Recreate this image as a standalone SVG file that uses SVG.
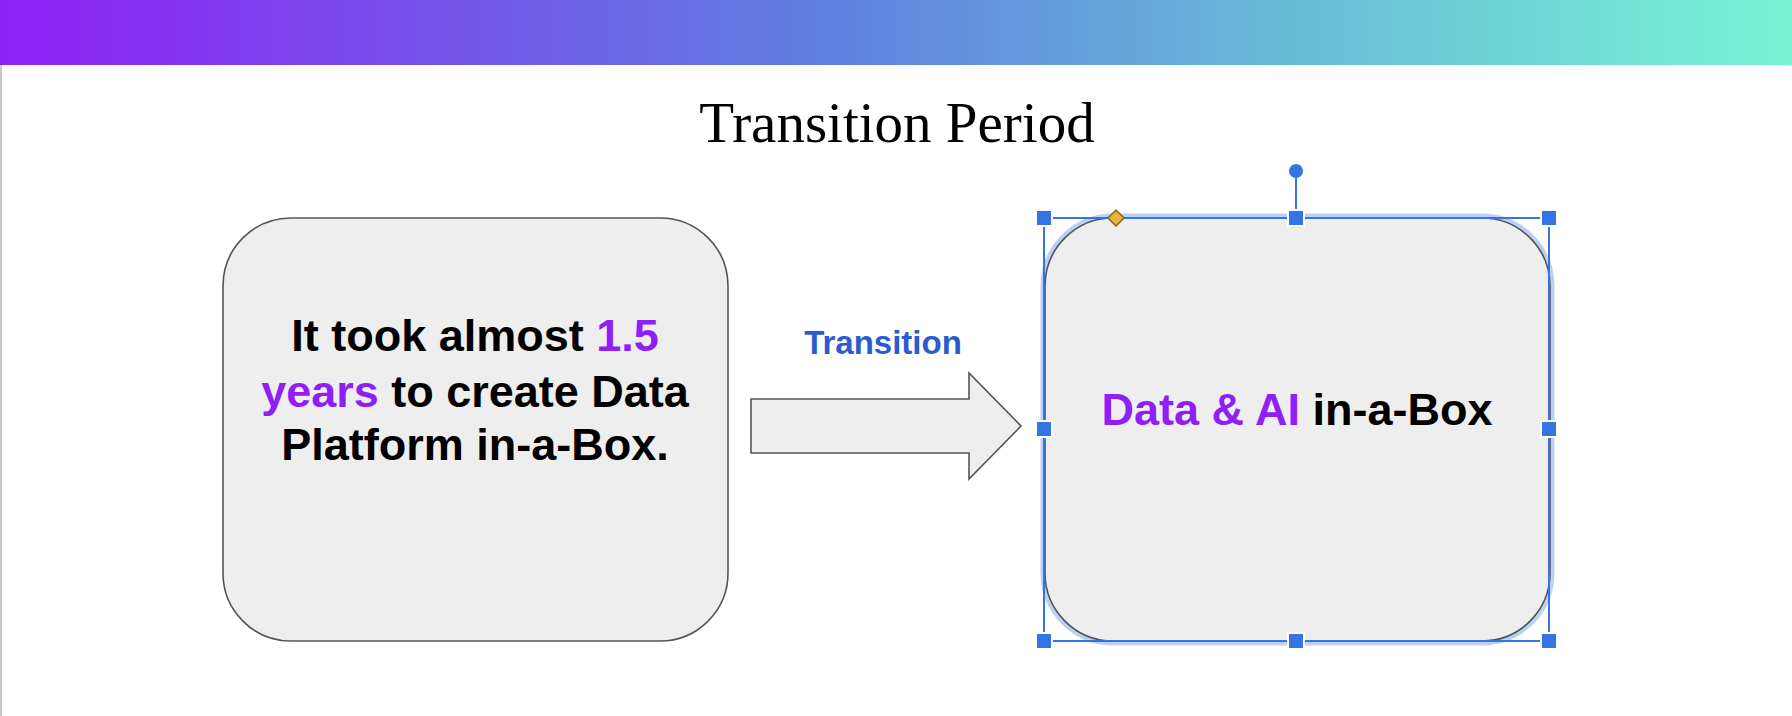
<svg xmlns="http://www.w3.org/2000/svg" width="1792" height="716" viewBox="0 0 1792 716">
<defs>
<linearGradient id="bar" x1="0" y1="0" x2="1" y2="0">
<stop offset="0" stop-color="#8f20f6"/>
<stop offset="0.45" stop-color="#607ee0"/>
<stop offset="0.7" stop-color="#68b6d8"/>
<stop offset="1" stop-color="#77f5d5"/>
</linearGradient>
<style>
.box{fill:#eeeeee;stroke:#555555;stroke-width:1.6}
.t{font-family:"Liberation Sans",Arial,sans-serif;font-weight:bold;font-size:45px;fill:#000;text-anchor:middle}
.p{fill:#8f1ff5}
.h{fill:#3574e3;stroke:#ffffff;stroke-width:2}
.sel{fill:none;stroke:#3574e3;stroke-width:2}
</style>
</defs>
<rect x="0" y="0" width="1792" height="716" fill="#ffffff"/>
<rect x="0" y="0" width="1792" height="65" fill="url(#bar)"/>
<line x1="1" y1="65" x2="1" y2="716" stroke="#c8c8c8" stroke-width="2"/>
<text x="897" y="142" font-family="'Liberation Serif','Times New Roman',serif" font-size="57" text-anchor="middle" fill="#000">Transition Period</text>
<g id="node-left">
<rect class="box" x="223" y="218" width="505" height="423" rx="68" ry="68"/>
<text class="t" x="475" y="351">It took almost <tspan class="p">1.5</tspan></text>
<text class="t" x="475" y="407"><tspan class="p">years</tspan> to create Data</text>
<text class="t" x="475" y="460">Platform in-a-Box.</text>
</g>
<g id="connectors">
<path d="M751 399 H969 V373 L1021 426 L969 479 V453 H751 Z" fill="#eeeeee" stroke="#555555" stroke-width="1.6"/>
<text x="883" y="354" font-family="'Liberation Sans',Arial,sans-serif" font-weight="bold" font-size="33" fill="#2b5bd0" text-anchor="middle">Transition</text>
</g>
<g id="node-right">
<rect x="1045" y="218" width="505" height="423" rx="68" ry="68" fill="none" stroke="#bcd0f6" stroke-width="9"/>
<rect class="box" x="1045" y="218" width="505" height="423" rx="68" ry="68"/>
<text class="t" x="1297" y="425"><tspan class="p">Data &amp; AI</tspan> in-a-Box</text>
<rect class="sel" x="1044" y="218" width="505" height="423"/>
<line x1="1296" y1="171" x2="1296" y2="218" stroke="#3574e3" stroke-width="2"/>
<circle cx="1296" cy="171" r="7" fill="#3574e3"/>
<rect class="h" x="1036" y="210" width="16" height="16"/>
<rect class="h" x="1288" y="210" width="16" height="16"/>
<rect class="h" x="1541" y="210" width="16" height="16"/>
<rect class="h" x="1036" y="421" width="16" height="16"/>
<rect class="h" x="1541" y="421" width="16" height="16"/>
<rect class="h" x="1036" y="633" width="16" height="16"/>
<rect class="h" x="1288" y="633" width="16" height="16"/>
<rect class="h" x="1541" y="633" width="16" height="16"/>
<path d="M1116 210 L1124 218 L1116 226 L1108 218 Z" fill="#e8b53a" stroke="#8a6417" stroke-width="1.5"/>
</g>
</svg>
